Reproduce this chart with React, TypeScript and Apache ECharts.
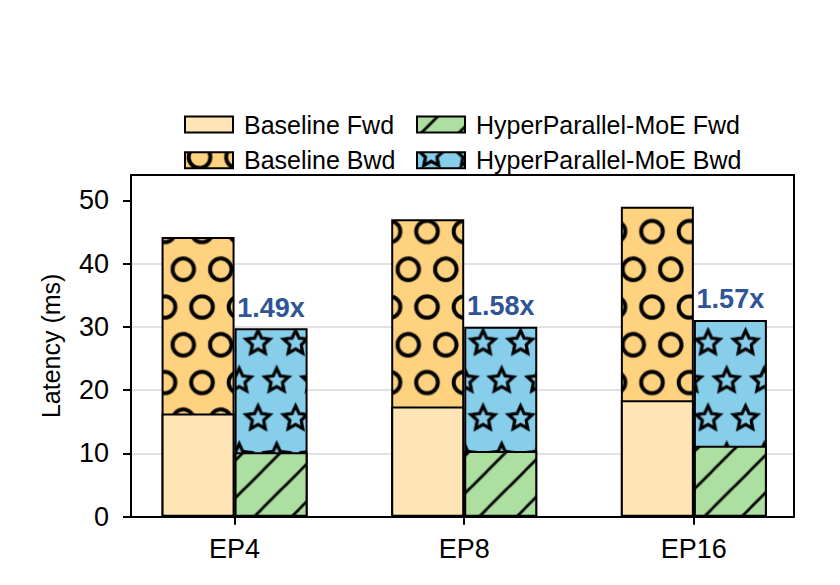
import React, { useEffect, useRef } from 'react';
import * as echarts from 'echarts';

const categories = ['EP4', 'EP8', 'EP16'];
const baselineFwd = [16.3, 17.4, 18.4];
const baselineBwd = [27.9, 29.6, 30.6];
const hpFwd = [10.2, 10.4, 11.2];
const hpBwd = [19.6, 19.6, 19.9];
const speedupLabels = ['1.49x', '1.58x', '1.57x'];
const yTicks = [0, 10, 20, 30, 40, 50];
const catTicks = [0, 1, 2];

const FONT = 'Liberation Sans, Arial, Helvetica, sans-serif';

type Ctx = CanvasRenderingContext2D;

function makeTile(w: number, h: number, bg: string, pts: number[][], drawOne: (ctx: Ctx, x: number, y: number) => void) {
  const c = document.createElement('canvas');
  c.width = w;
  c.height = h;
  const ctx = c.getContext('2d') as Ctx;
  ctx.fillStyle = bg;
  ctx.fillRect(0, 0, w, h);
  for (const [x, y] of pts) {
    for (const dx of [-w, 0, w]) {
      for (const dy of [-h, 0, h]) {
        drawOne(ctx, x + dx, y + dy);
      }
    }
  }
  return c;
}

function pattern(c: HTMLCanvasElement) {
  return {
    image: c,
    repeat: 'repeat',
    imageWidth: c.width,
    imageHeight: c.height,
    scaleX: 0.5,
    scaleY: 0.5,
  };
}

export default function App() {
  const ref = useRef<HTMLDivElement>(null);

  useEffect(() => {
    if (!ref.current) return;
    const chart = echarts.init(ref.current, null, { renderer: 'svg' });

    // circles (baseline bwd)
    const circleTile = makeTile(75, 151, '#FFD280', [[66.6, 85.6], [29.1, 10.1]], (ctx, x, y) => {
      ctx.beginPath();
      ctx.arc(x, y, 21.5, 0, Math.PI * 2);
      ctx.strokeStyle = '#000';
      ctx.lineWidth = 8;
      ctx.stroke();
    });
    // stars (HP bwd)
    const starTile = makeTile(75, 151, '#87CEEB', [[66, 82], [28.5, 6.5]], (ctx, x, y) => {
      const R = 25;
      const r = 12;
      ctx.beginPath();
      for (let i = 0; i < 10; i++) {
        const a = -Math.PI / 2 + (i * Math.PI) / 5;
        const rr = i % 2 === 0 ? R : r;
        const px = x + rr * Math.cos(a);
        const py = y + rr * Math.sin(a);
        if (i === 0) ctx.moveTo(px, py);
        else ctx.lineTo(px, py);
      }
      ctx.closePath();
      ctx.strokeStyle = '#000';
      ctx.lineWidth = 6.5;
      ctx.lineJoin = 'miter';
      ctx.stroke();
    });
    // diagonal lines (HP fwd)
    const diagTile = makeTile(75, 75, '#ADDFA0', [[0, 0]], (ctx, x, y) => {
      if (x !== 0 || y !== 0) return;
      ctx.strokeStyle = '#000';
      ctx.lineWidth = 5.5;
      for (const cc of [41.6 - 75, 41.6, 116.6, 191.6]) {
        ctx.beginPath();
        ctx.moveTo(-20, cc + 20);
        ctx.lineTo(cc + 20, -20);
        ctx.stroke();
      }
    });

    const off = 0.159;
    const barStyle = { borderColor: '#000', borderWidth: 2 };
    const common = { type: 'bar', barWidth: 73, barGap: '-100%' };

    const legendCommon = {
      orient: 'vertical',
      top: 112,
      padding: 0,
      itemWidth: 48,
      itemHeight: 16,
      itemGap: 10.7,
      icon: 'rect',
      selectedMode: false,
      textStyle: { fontSize: 25, color: '#000', fontFamily: FONT, lineHeight: 24, padding: [0, 0, 0, 6] },
      itemStyle: { borderColor: '#000', borderWidth: 2 },
    };

    const axisLineStyle = { color: '#000', width: 2 };

    chart.setOption({
      animation: false,
      textStyle: { fontFamily: FONT },
      grid: { left: 131, right: 46, top: 175, bottom: 68.3, outerBoundsMode: 'none' },
      legend: [
        { ...legendCommon, left: 184, data: ['Baseline Fwd', 'Baseline Bwd'] },
        { ...legendCommon, left: 416, data: ['HyperParallel-MoE Fwd', 'HyperParallel-MoE Bwd'] },
      ],
      xAxis: [
        {
          type: 'value',
          min: -0.451,
          max: 2.436,
          axisLine: { show: true, onZero: false, lineStyle: axisLineStyle },
          axisTick: { show: true, length: 8, lineStyle: axisLineStyle, customValues: catTicks },
          axisLabel: {
            customValues: catTicks,
            formatter: (v: number) => categories[Math.round(v)] ?? '',
            fontSize: 27,
            color: '#000',
            margin: 19,
            fontFamily: FONT,
          },
          splitLine: { show: false },
        },
        {
          type: 'value',
          position: 'top',
          min: -0.451,
          max: 2.436,
          axisLine: { show: true, onZero: false, lineStyle: axisLineStyle },
          axisTick: { show: false },
          axisLabel: { show: false },
          splitLine: { show: false },
        },
      ],
      yAxis: [
        {
          type: 'value',
          min: 0,
          max: 54,
          interval: 10,
          name: 'Latency (ms)',
          nameLocation: 'middle',
          nameGap: 68,
          nameTextStyle: { fontSize: 25, color: '#000', fontFamily: FONT },
          axisLine: { show: true, onZero: false, lineStyle: axisLineStyle },
          axisTick: { show: true, length: 8, lineStyle: axisLineStyle, customValues: yTicks },
          axisLabel: { customValues: yTicks, fontSize: 27, color: '#000', margin: 22, fontFamily: FONT },
          splitLine: { show: true, showMaxLine: false, showMinLine: false, lineStyle: { color: '#d9d9d9', width: 1.5 } },
        },
        {
          type: 'value',
          position: 'right',
          min: 0,
          max: 54,
          axisLine: { show: true, onZero: false, lineStyle: axisLineStyle },
          axisTick: { show: false },
          axisLabel: { show: false },
          splitLine: { show: false },
        },
      ],
      series: [
        {
          ...common,
          name: 'Baseline Bwd',
          data: categories.map((_, i) => [i - off, +(baselineFwd[i] + baselineBwd[i]).toFixed(2)]),
          itemStyle: { ...barStyle, color: pattern(circleTile) },
        },
        {
          ...common,
          name: 'Baseline Fwd',
          data: categories.map((_, i) => [i - off, baselineFwd[i]]),
          itemStyle: { ...barStyle, color: '#FFE4B5' },
        },
        {
          ...common,
          name: 'HyperParallel-MoE Bwd',
          data: categories.map((_, i) => [i + off, +(hpFwd[i] + hpBwd[i]).toFixed(2)]),
          itemStyle: { ...barStyle, color: pattern(starTile) },
          label: {
            show: true,
            position: 'top',
            distance: 7,
            formatter: (p: any) => speedupLabels[p.dataIndex],
            fontSize: 27,
            fontWeight: 'bold',
            color: '#2F5597',
            fontFamily: FONT,
          },
        },
        {
          ...common,
          name: 'HyperParallel-MoE Fwd',
          data: categories.map((_, i) => [i + off, hpFwd[i]]),
          itemStyle: { ...barStyle, color: pattern(diagTile) },
        },
      ],
    });

    return () => chart.dispose();
  }, []);

  return (
    <div
      ref={ref}
      style={{ position: 'fixed', left: 0, top: 0, width: 840, height: 585, background: '#fff' }}
    />
  );
}
